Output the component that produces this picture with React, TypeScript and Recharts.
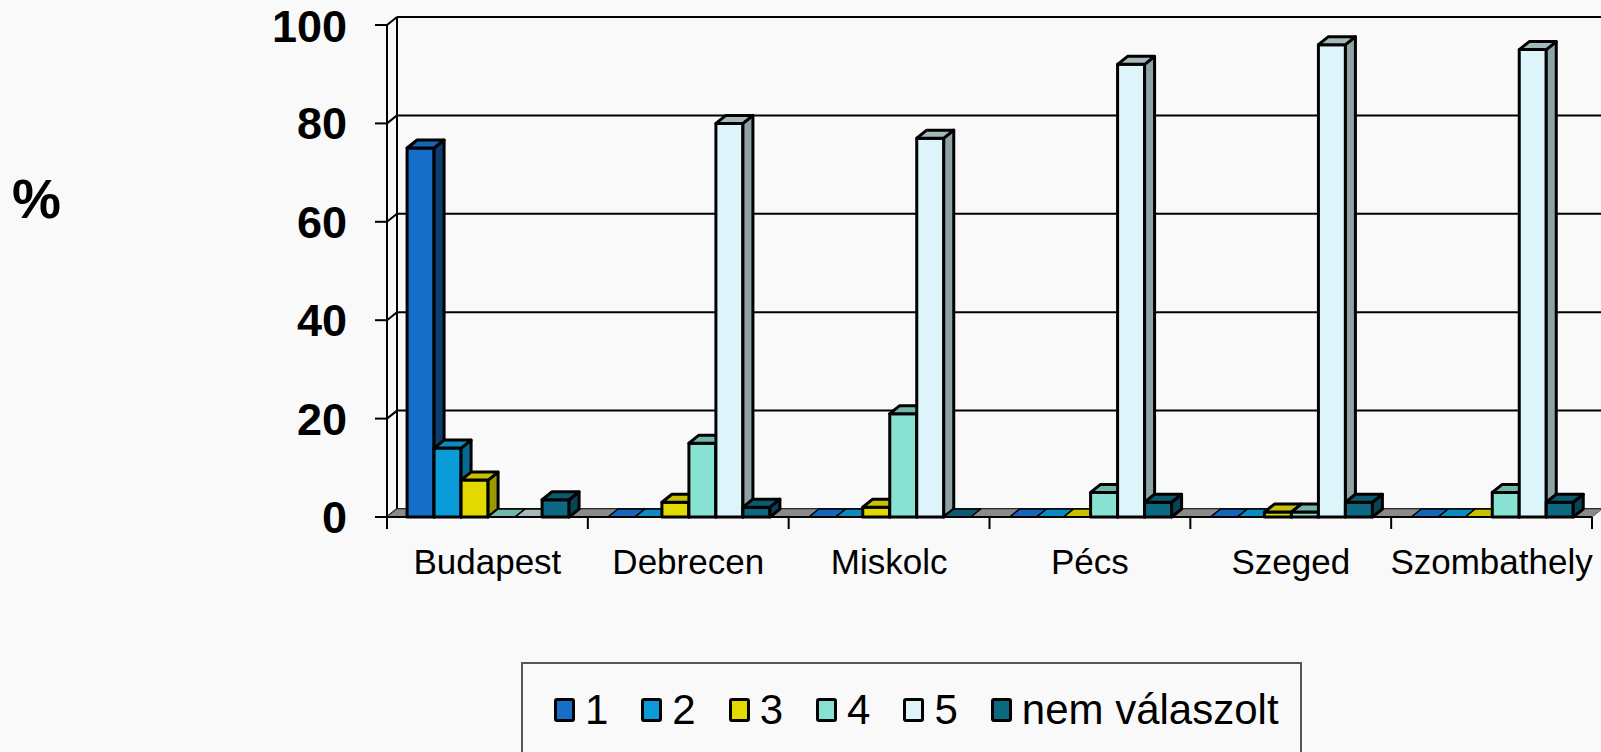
import React from 'react';
import { BarChart, Bar, XAxis, YAxis, CartesianGrid, Legend, ReferenceArea } from 'recharts';

const CITIES = ['Budapest', 'Debrecen', 'Miskolc', 'Pécs', 'Szeged', 'Szombathely'];
const S1 = [75, 0, 0, 0, 0, 0];
const S2 = [14, 0, 0, 0, 0, 0];
const S3 = [7.5, 3, 2, 0, 1, 0];
const S4 = [0, 15, 21, 5, 1, 5];
const S5 = [0, 80, 77, 92, 96, 95];
const SN = [3.5, 2, 0, 3, 3, 3];
const SERIES_NAMES = ['1', '2', '3', '4', '5', 'nem válaszolt'];
const Y_TICKS = [0, 20, 40, 60, 80, 100];

const SERIES_VALUES = [S1, S2, S3, S4, S5, SN];
const KEYS = ['s1', 's2', 's3', 's4', 's5', 'sn'];

const COLORS = [
  { front: '#176ec8', top: '#1565bb', side: '#0c3d70' },
  { front: '#0a9cd8', top: '#0a8cc2', side: '#066a94' },
  { front: '#e2d900', top: '#c9c000', side: '#9d9700' },
  { front: '#88e2d2', top: '#70b8ab', side: '#5c9b91' },
  { front: '#ddf5fa', top: '#a3b9ba', side: '#8ea3a5' },
  { front: '#0d6882', top: '#0b5a70', side: '#074457' },
];

const data = CITIES.map((city, i) => {
  const row: Record<string, string | number> = { city };
  KEYS.forEach((k, j) => {
    row[k] = SERIES_VALUES[j][i];
  });
  return row;
});

const DX = 10;
const DY = 8;
const FONT = 'Arial, "Liberation Sans", sans-serif';

function Bar3D(props: any) {
  const { x, y, width, height, colors } = props;
  if (x == null || y == null || !isFinite(x) || !isFinite(y)) return null;
  const h = Math.max(0, height || 0);
  const w = width;
  const top = `${x},${y} ${x + DX},${y - DY} ${x + w + DX},${y - DY} ${x + w},${y}`;
  const side = `${x + w},${y} ${x + w + DX},${y - DY} ${x + w + DX},${y + h - DY} ${x + w},${y + h}`;
  const sw = 3;
  return (
    <g>
      {h > 0 && (
        <rect x={x} y={y} width={w} height={h} fill={colors.front} stroke="#000" strokeWidth={sw} strokeLinejoin="round" />
      )}
      {h > 0 && <polygon points={side} fill={colors.side} stroke="#000" strokeWidth={sw} strokeLinejoin="round" />}
      <polygon points={top} fill={colors.top} stroke="#000" strokeWidth={h > 0 ? sw : 1.6} strokeLinejoin="round" />
    </g>
  );
}

function GridLine(props: any) {
  const { x1, y1, x2, y2 } = props;
  return (
    <g>
      <line x1={x1 + DX} y1={y1 - DY} x2={x2 + DX} y2={y2 - DY} stroke="#000" strokeWidth={2} />
      <line x1={x1} y1={y1} x2={x1 + DX} y2={y1 - DY} stroke="#000" strokeWidth={2} />
    </g>
  );
}

function WallFrame(props: any) {
  const { x, y, width, height } = props;
  const bottom = y + height;
  const floor = `${x},${bottom} ${x + width},${bottom} ${x + width + DX},${bottom - DY} ${x + DX},${bottom - DY}`;
  return (
    <g>
      <line x1={x + DX} y1={y - DY} x2={x + DX} y2={bottom - DY} stroke="#000" strokeWidth={2} />
      <polygon points={floor} fill="#8a8a8a" stroke="#555" strokeWidth={1} />
    </g>
  );
}

function CityTick(props: any) {
  const { x, y, payload, index, visibleTicksCount } = props;
  const half = payload && payload.offset ? payload.offset : 100;
  const isLast = index === (visibleTicksCount ?? CITIES.length) - 1;
  return (
    <g>
      <line x1={x - half} y1={y} x2={x - half} y2={y + 12} stroke="#000" strokeWidth={2} />
      {isLast && <line x1={x + half} y1={y} x2={x + half} y2={y + 12} stroke="#000" strokeWidth={2} />}
      <text x={x} y={y + 57} textAnchor="middle" fontFamily={FONT} fontSize={35} fill="#000">
        {payload.value}
      </text>
    </g>
  );
}

function LegendContent(props: any) {
  const { payload } = props;
  return (
    <div
      style={{
        display: 'flex',
        alignItems: 'center',
        height: '100%',
        paddingLeft: 31,
        boxSizing: 'border-box',
        fontFamily: FONT,
        fontSize: 42,
        color: '#000',
        whiteSpace: 'nowrap',
      }}
    >
      {(payload || []).map((entry: any, i: number) => (
        <div key={i} style={{ display: 'flex', alignItems: 'center', marginRight: 33, flexShrink: 0 }}>
          <div
            style={{
              width: 21,
              height: 24,
              boxSizing: 'border-box',
              border: '3px solid #000',
              borderRadius: 3,
              background: entry.color,
              marginRight: 10,
            }}
          />
          <span style={{ lineHeight: 1 }}>{entry.value}</span>
        </div>
      ))}
    </div>
  );
}

export default function App() {
  return (
    <div style={{ position: 'absolute', left: 0, top: 0, width: 1601, height: 752, background: '#f9f9f9', overflow: 'hidden' }}>
      <BarChart
        width={1601}
        height={752}
        data={data}
        margin={{ top: 25, right: 9, left: 0, bottom: 175 }}
        barCategoryGap="10%"
        barGap={0}
      >
        <CartesianGrid vertical={false} horizontal={(p: any) => <GridLine key={p.key ?? `${p.y1}`} {...p} />} />
        <ReferenceArea y1={0} y2={100} shape={(p: any) => <WallFrame {...p} />} ifOverflow="visible" />
        <XAxis
          dataKey="city"
          height={60}
          tickLine={false}
          tickSize={0}
          tickMargin={0}
          axisLine={{ stroke: '#000', strokeWidth: 2 }}
          tick={(p: any) => <CityTick {...p} />}
          interval={0}
        />
        <YAxis
          width={387}
          domain={[0, 100]}
          ticks={Y_TICKS}
          tickSize={12}
          tickMargin={28}
          axisLine={{ stroke: '#000', strokeWidth: 2 }}
          tickLine={{ stroke: '#000', strokeWidth: 2 }}
          tick={{ fontFamily: FONT, fontSize: 45, fontWeight: 'bold', fill: '#000' }}
          label={{
            value: '%',
            position: 'insideLeft',
            offset: 12,
            dy: -73,
            style: { fontFamily: FONT, fontSize: 55, fontWeight: 'bold', fill: '#000' },
          }}
        />
        <Legend
          layout="horizontal"
          verticalAlign="middle"
          align="center"
          content={(p: any) => <LegendContent {...p} />}
          wrapperStyle={{
            left: 521,
            top: 662,
            width: 781,
            height: 96,
            border: '2px solid #555',
            boxSizing: 'border-box',
            right: 'auto',
            bottom: 'auto',
          }}
        />
        {KEYS.map((k, i) => (
          <Bar
            key={k}
            dataKey={k}
            name={SERIES_NAMES[i]}
            fill={COLORS[i].front}
            isAnimationActive={false}
            shape={(p: any) => <Bar3D {...p} colors={COLORS[i]} />}
          />
        ))}
      </BarChart>
    </div>
  );
}
